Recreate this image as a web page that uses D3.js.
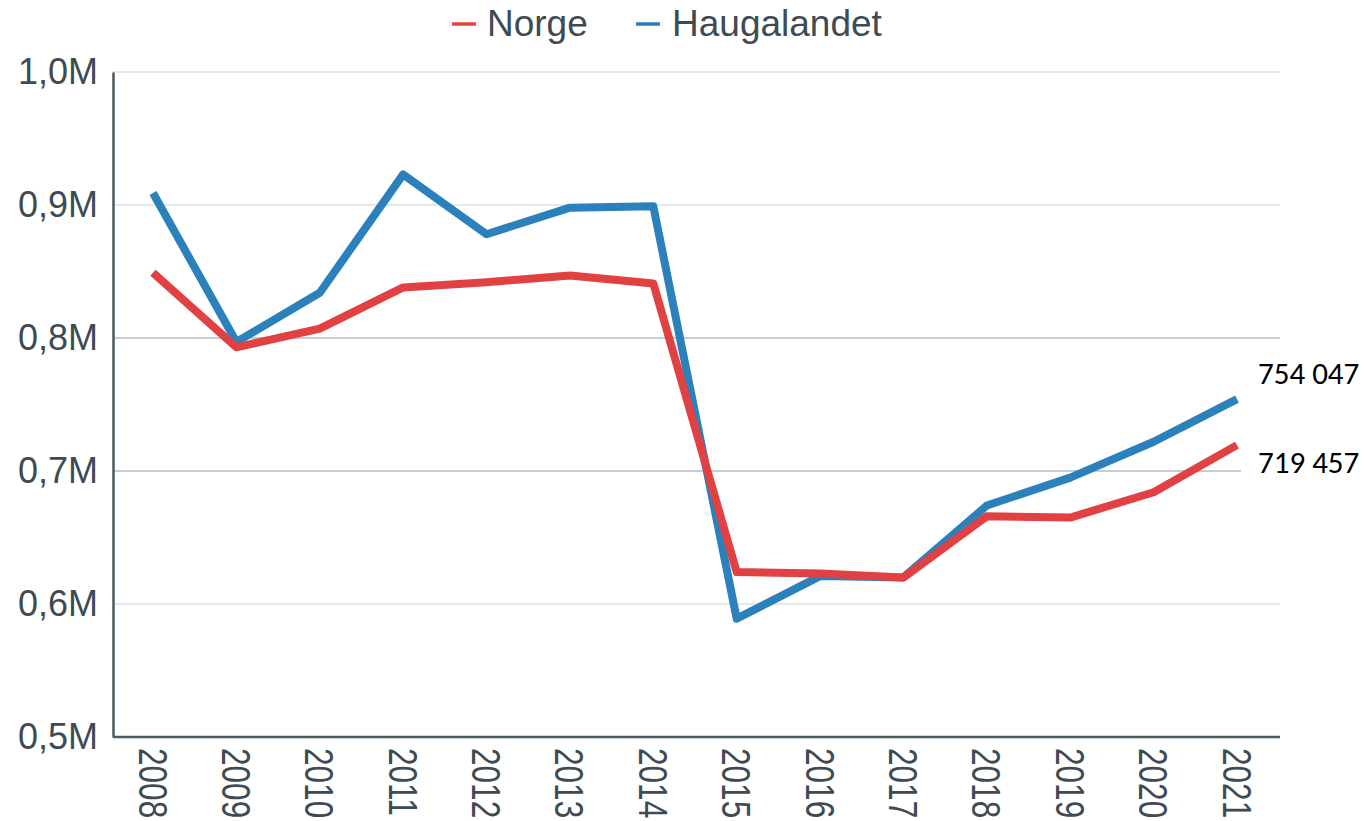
<!DOCTYPE html>
<html>
<head>
<meta charset="utf-8">
<script src="https://cdn.jsdelivr.net/npm/d3@7"></script>
<style>
  body { margin: 0; background: #fff; }
  svg { display: block; }
</style>
</head>
<body>
<svg id="chart" width="1368" height="821"></svg>
<script>
var years = [2008, 2009, 2010, 2011, 2012, 2013, 2014, 2015, 2016, 2017, 2018, 2019, 2020, 2021];
var norge = [849000, 793000, 807000, 838000, 842000, 847000, 841000, 624000, 623000, 620000, 666000, 665000, 684000, 719457];
var haugalandet = [909000, 797000, 834000, 923000, 878000, 898000, 899000, 589000, 621000, 620000, 674000, 695000, 722000, 754047];
var yTicks = [500000, 600000, 700000, 800000, 900000, 1000000];
var yTickLabels = ["0,5M", "0,6M", "0,7M", "0,8M", "0,9M", "1,0M"];
var seriesNames = ["Norge", "Haugalandet"];
var seriesColors = ["#e24143", "#2a81bb"];
var endLabels = ["719 457", "754 047"];

var svg = d3.select("#chart");
var plotLeft = 113, plotRight = 1280, plotTop = 72, plotBottom = 737;

var x = d3.scalePoint().domain(years).range([153, 1237]);
var y = d3.scaleLinear().domain([500000, 1000000]).range([plotBottom, plotTop]);

// gridlines
svg.append("g")
	.selectAll("line")
	.data(yTicks.slice(1))
	.enter()
	.append("line")
	.attr("x1", plotLeft)
	.attr("x2", plotRight)
	.attr("y1", function(d){ return y(d); })
	.attr("y2", function(d){ return y(d); })
	.attr("stroke", function(d){ return (d == 800000 || d == 700000) ? "#c4ced4" : "#e4e9ec"; })
	.attr("stroke-width", 2);

// y axis
var yAxis = d3.axisLeft(y)
	.tickValues(yTicks)
	.tickSize(0)
	.tickPadding(15)
	.tickFormat(function(d, i){ return yTickLabels[i]; });
var gy = svg.append("g").attr("transform", "translate(" + plotLeft + ",0)").call(yAxis);
gy.select(".domain").attr("stroke", "#4b5a61").attr("stroke-width", 2.5);
gy.selectAll("text")
	.attr("fill", "#3e4b52")
	.attr("font-family", "'Liberation Sans', Arial, sans-serif")
	.attr("font-size", 36);

// x axis, labels rotated and a bit condensed like the original
var xAxis = d3.axisBottom(x).tickSize(0).tickPadding(0);
var gx = svg.append("g").attr("transform", "translate(0," + plotBottom + ")").call(xAxis);
gx.select(".domain").attr("d", "M" + plotLeft + ",0H" + plotRight).attr("stroke", "#4b5a61").attr("stroke-width", 2.5);
gx.selectAll("text")
	.attr("fill", "#3e4b52")
	.attr("font-family", "'Liberation Sans', Arial, sans-serif")
	.attr("font-size", 41)
	.attr("text-anchor", "start")
	.attr("dy", null)
	.attr("y", 0)
	.attr("transform", "translate(-15,11) rotate(90) scale(0.77,1)");

// lines
var line = d3.line()
	.x(function(d, i){ return x(years[i]); })
	.y(function(d){ return y(d); });

var allSeries = [norge, haugalandet];
// Haugalandet first so Norge sits on top
[1, 0].forEach(function(k){
	svg.append("path")
		.datum(allSeries[k])
		.attr("d", line)
		.attr("fill", "none")
		.attr("stroke", seriesColors[k])
		.attr("stroke-width", 8)
		.attr("stroke-linejoin", "round");
});

// end labels with white box behind
[1, 0].forEach(function(k){
	var v = allSeries[k][allSeries[k].length - 1];
	var ty = y(v) + (k == 1 ? -15 : 28);
	svg.append("rect")
		.attr("x", 1241)
		.attr("y", ty - 28)
		.attr("width", 127)
		.attr("height", 36)
		.attr("fill", "#fff");
	svg.append("text")
		.attr("x", 1258)
		.attr("y", ty)
		.attr("font-family", "Carlito, 'Open Sans', sans-serif")
		.attr("font-size", 31)
		.attr("fill", "#000")
		.text(endLabels[k]);
});

// legend
var legendX = [452, 636];
seriesNames.forEach(function(name, i){
	var g = svg.append("g").attr("transform", "translate(" + legendX[i] + ",24)");
	g.append("line")
		.attr("x1", 0).attr("x2", 24)
		.attr("y1", 0).attr("y2", 0)
		.attr("stroke", seriesColors[i])
		.attr("stroke-width", 3.5);
	g.append("text")
		.attr("x", i == 0 ? 35 : 36)
		.attr("y", 12)
		.attr("font-family", "'Liberation Sans', Arial, sans-serif")
		.attr("font-size", 37)
		.attr("fill", "#3e4b52")
		.text(name);
});
</script>
</body>
</html>
